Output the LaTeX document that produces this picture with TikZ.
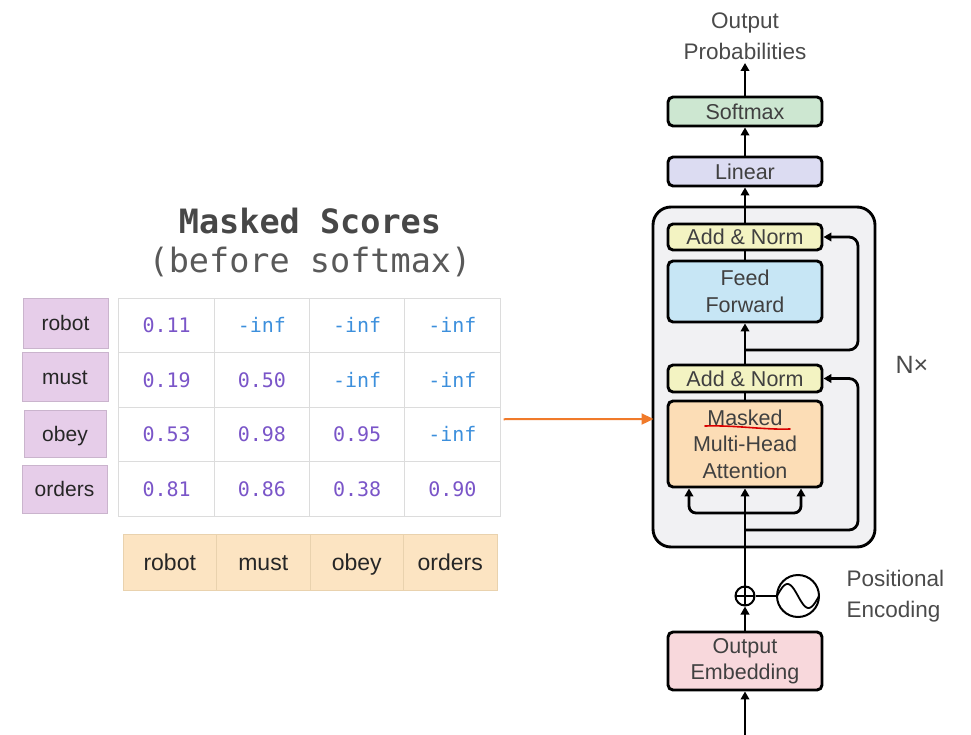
\documentclass[tikz,border=0pt]{standalone}
\usepackage{fontspec}
\setmainfont{Liberation Sans}
\setmonofont{DejaVu Sans Mono}
\usetikzlibrary{arrows.meta,calc}

\definecolor{tagpurple}{HTML}{E6CDE9}
\definecolor{tokpeach}{HTML}{FCE4C2}
\definecolor{tokedge}{HTML}{E9D2AE}
\definecolor{gridgray}{HTML}{DCDCDC}
\definecolor{numpurple}{HTML}{7A55C8}
\definecolor{infblue}{HTML}{3C8FDC}
\definecolor{ptrorange}{HTML}{F07A2A}
\definecolor{softgreen}{HTML}{CDE7D1}
\definecolor{linlav}{HTML}{DCDCF2}
\definecolor{normyellow}{HTML}{F3F3C2}
\definecolor{ffblue}{HTML}{C7E6F5}
\definecolor{attpeach}{HTML}{FCDDB6}
\definecolor{embpink}{HTML}{F8D8DC}
\definecolor{blockgray}{HTML}{F1F1F3}
\definecolor{labgray}{HTML}{4A4A4A}

\begin{document}
\begin{tikzpicture}[x=1pt,y=-1pt,
  wordtag/.style={fill=tagpurple, draw=tagpurple!88!black, line width=0.6pt,
    inner sep=0pt, text height=15pt, text depth=0pt,
    font=\fontsize{21}{24}\selectfont, text=black!85},
  gridcell/.style={draw=gridgray, line width=1pt, minimum width=95.25pt,
    minimum height=54.5pt, inner sep=0pt, font=\ttfamily\fontsize{20}{22}\selectfont},
  numval/.style={gridcell, text=numpurple},
  infval/.style={gridcell, text=infblue},
  tokcell/.style={fill=tokpeach, draw=tokedge, line width=0.8pt, minimum width=93.5pt,
    minimum height=56pt, inner sep=0pt, text height=16.5pt, text depth=0pt,
    font=\fontsize{23}{26}\selectfont, text=black!85},
  layer/.style={draw=black, line width=2.9pt, rounded corners=5pt, minimum width=154pt,
    inner sep=0pt, align=center, font=\fontsize{21.5}{26.5}\selectfont, text=black!75},
  caption/.style={align=left, font=\fontsize{22.5}{31}\selectfont, text=labgray},
  conn/.style={line width=2.8pt, draw=black},
  arr/.style={conn, -{Triangle[length=8pt,width=8.5pt]}},
]
\useasboundingbox (0,0) rectangle (971,735);

% ---------- score table ----------
\node[font=\ttfamily\bfseries\fontsize{33.5}{36}\selectfont, text=black!72] (title) at (310,221) {Masked Scores};
\node[font=\ttfamily\fontsize{33.5}{36}\selectfont, text=black!65] (subtitle) at (310,262) {(before softmax)};

\node[wordtag, minimum width=85pt, minimum height=50pt] (q1) at (65.5,323) {robot};
\node[wordtag, minimum width=86pt, minimum height=49pt] (q2) at (65,376.5) {must};
\node[wordtag, minimum width=82pt, minimum height=47pt] (q3) at (65,433.5) {obey};
\node[wordtag, minimum width=85pt, minimum height=48pt] (q4) at (64.5,489) {orders};

% row 1
\node[numval] (g-1-1) at (166.6,325.25) {0.11};
\node[infval] (g-1-2) at (261.9,325.25) {-inf};
\node[infval] (g-1-3) at (357.1,325.25) {-inf};
\node[infval] (g-1-4) at (452.4,325.25) {-inf};
% row 2
\node[numval] (g-2-1) at (166.6,379.75) {0.19};
\node[numval] (g-2-2) at (261.9,379.75) {0.50};
\node[infval] (g-2-3) at (357.1,379.75) {-inf};
\node[infval] (g-2-4) at (452.4,379.75) {-inf};
% row 3
\node[numval] (g-3-1) at (166.6,434.25) {0.53};
\node[numval] (g-3-2) at (261.9,434.25) {0.98};
\node[numval] (g-3-3) at (357.1,434.25) {0.95};
\node[infval] (g-3-4) at (452.4,434.25) {-inf};
% row 4
\node[numval] (g-4-1) at (166.6,488.75) {0.81};
\node[numval] (g-4-2) at (261.9,488.75) {0.86};
\node[numval] (g-4-3) at (357.1,488.75) {0.38};
\node[numval] (g-4-4) at (452.4,488.75) {0.90};

\node[tokcell] (k1) at (169.75,562) {robot};
\node[tokcell] (k2) at (263.25,562) {must};
\node[tokcell] (k3) at (356.75,562) {obey};
\node[tokcell] (k4) at (450.25,562) {orders};

% ---------- decoder stack ----------
\node[draw=black, fill=blockgray, line width=2.9pt, rounded corners=18pt,
  minimum width=222pt, minimum height=340pt, inner sep=0pt] (nx) at (764,377) {};

\node[caption, align=center] (probs) at (745,36) {Output\\Probabilities};
\node[layer, fill=softgreen, minimum height=29pt] (softmax) at (745,111.5) {Softmax};
\node[layer, fill=linlav, minimum height=29pt] (linear) at (745,171.5) {Linear};
\node[layer, fill=normyellow, minimum height=26pt] (addn1) at (745,237) {Add \& Norm};
\node[layer, fill=ffblue, minimum height=61pt] (ff) at (745,291.5) {Feed\\Forward};
\node[layer, fill=normyellow, minimum height=27pt] (addn2) at (745,378.5) {Add \& Norm};
\node[layer, fill=attpeach, minimum height=86pt] (mha) at (745,444) {Masked\\Multi-Head\\Attention};
\node[layer, fill=embpink, minimum height=58pt] (emb) at (745,661) {Output\\Embedding};
\node[font=\fontsize{25}{28}\selectfont, text=labgray] (nxlabel) at (912,365) {N×};

\node[circle, draw=black, line width=2pt, minimum size=19pt, inner sep=0pt,
  path picture={\draw[line width=1.6pt]
    (path picture bounding box.north) -- (path picture bounding box.south)
    (path picture bounding box.west) -- (path picture bounding box.east);}] (plus) at (745,596) {};
\node[circle, draw=black, line width=2pt, minimum size=42pt, inner sep=0pt,
  path picture={\draw[line width=1.8pt, shift={(path picture bounding box.center)}]
    plot[domain=-1:1, samples=40, smooth] ({\x*21}, {12*sin(\x*180)});}] (wave) at (798,596) {};
\node[caption, anchor=west] (posenc) at (843,596) {Positional\\Encoding};

% ---------- connectors ----------
\coordinate (src) at (745,735);
\coordinate (split) at (745,513);
\coordinate (res1) at (745,530);
\coordinate (res1c) at (858,530);
\coordinate (res2) at (745,350);
\coordinate (res2c) at (858,350);

\draw[arr] (src) -- (emb.south);
\draw[arr] (emb.north) -- (plus.south);
\draw[conn] (plus.east) -- (wave.west);
\draw[arr] (plus.north) -- (mha.south);
\draw[arr, rounded corners=7pt] (split) -| ($(mha.south west)!0.143!(mha.south east)$);
\draw[arr, rounded corners=7pt] (split) -| ($(mha.south west)!0.857!(mha.south east)$);
\draw[arr, rounded corners=9pt] (res1) -- (res1c) |- (addn2.east);
\draw[conn] (mha.north) -- (addn2.south);
\draw[arr] (addn2.north) -- (ff.south);
\draw[arr, rounded corners=9pt] (res2) -- (res2c) |- (addn1.east);
\draw[conn] (ff.north) -- (addn1.south);
\draw[arr] (addn1.north) -- (linear.south);
\draw[arr] (linear.north) -- (softmax.south);
\draw[arr] (softmax.north) -- (probs.south);

% pointer from the score table to the attention layer
\draw[ptrorange, line width=2pt, -{Triangle[length=12pt,width=11pt]}]
  ([xshift=3pt,yshift=15pt]g-3-4.east) -- ([xshift=-13pt,yshift=25pt]mha.west);

% hand-drawn underline
\draw[red!85!black, line width=1.6pt, line cap=round]
  (705,426) .. controls (735,425) and (765,430) .. (790,429);
\end{tikzpicture}
\end{document}
